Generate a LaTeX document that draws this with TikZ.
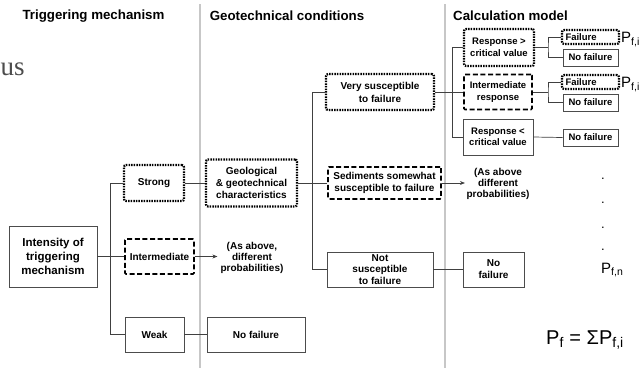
\documentclass[tikz,border=0pt]{standalone}
\usepackage{fontspec}
\setmainfont{Liberation Sans}
\newfontfamily\serifface{Liberation Serif}
\usetikzlibrary{arrows.meta}

\begin{document}
\begin{tikzpicture}[x=1pt,y=-1pt,
  every node/.style={font=\bfseries\fontsize{10}{12}\selectfont, align=center, inner sep=0pt},
  sz/.style 2 args={minimum width=#1pt, minimum height=#2pt},
  plainbox/.style={draw=black!70, line width=0.7pt, fill=white},
  dashbox/.style={draw=black, line width=1.7pt, dash pattern=on 5pt off 2.6pt, rounded corners=1pt, fill=white},
  dotbox/.style={draw=black, line width=2.2pt, dash pattern=on 1.5pt off 1.1pt, rounded corners=2pt, fill=white},
  link/.style={draw=black!75, line width=0.7pt},
  arrowlink/.style={link, -{Stealth[length=5pt,width=4pt]}},
  sep/.style={draw=black!22, line width=1.3pt},
  head/.style={font=\bfseries\fontsize{13.3}{16}\selectfont},
  calc/.style={font=\bfseries\fontsize{9.5}{11.5}\selectfont},
  prob/.style={font=\fontsize{15}{18}\selectfont},
  dotmark/.style={font=\fontsize{13}{13}\selectfont}]

\useasboundingbox (0,0) rectangle (642,368);

% column separators
\coordinate (s1top) at (200,4);
\coordinate (s1bot) at (200,368);
\coordinate (s2top) at (445,4);
\coordinate (s2bot) at (445,368);
\draw[sep] (s1top) -- (s1bot);
\draw[sep] (s2top) -- (s2bot);

% stray serif fragment at the top left
\node[font=\serifface\fontsize{27}{30}\selectfont, text=black!70, anchor=base west] (frag) at (0.5,75) {us};

% column headings
\node[head] (h1) at (93.5,16) {Triggering mechanism};
\node[head] (h2) at (287,16) {Geotechnical conditions};
\node[head, anchor=west] (h3) at (453,16) {Calculation model};

% triggering mechanism
\node[plainbox, sz={88}{61}, font=\bfseries\fontsize{11.5}{14}\selectfont] (intensity) at (53,256.5) {Intensity of\\triggering\\mechanism};
\node[dotbox, sz={60}{36}] (strong) at (154,183) {Strong};
\node[dashbox, sz={69}{35}] (intermed) at (159.5,256.5) {Intermediate};
\node[plainbox, sz={59}{35}] (weak) at (154.5,334.5) {Weak};

% geotechnical conditions
\node[font=\bfseries\fontsize{10}{11}\selectfont] (asabove1) at (252,258) {(As above,\\different\\probabilities)};
\node[dotbox, sz={91}{47}, font=\bfseries\fontsize{10}{11.7}\selectfont] (geo) at (251.5,183) {Geological\\\& geotechnical\\characteristics};
\node[plainbox, sz={98}{35}] (nofailweak) at (256,334.5) {No failure};
\node[dotbox, sz={108}{36}, font=\bfseries\fontsize{10}{13}\selectfont] (verysus) at (380,92) {Very susceptible\\to failure};
\node[dashbox, sz={113}{32}] (sediments) at (384.5,183) {Sediments somewhat\\susceptible to failure};
\node[plainbox, sz={106}{35}, font=\bfseries\fontsize{10}{11.5}\selectfont] (notsus) at (380,269.5) {Not\\susceptible\\to failure};

% calculation model
\node[font=\bfseries\fontsize{10}{11}\selectfont] (asabove2) at (498,184) {(As above\\different\\probabilities)};
\node[plainbox, sz={61}{35}] (nofailnot) at (493.5,269.5) {No\\failure};
\node[dotbox, calc, sz={70}{37}] (respgt) at (499,47.5) {Response >\\critical value};
\node[dashbox, calc, sz={68}{35}] (respint) at (498,92) {Intermediate\\response};
\node[plainbox, calc, sz={70}{36}] (resplt) at (498,137) {Response <\\critical value};

\node[dotbox, calc, sz={57}{14}, text width=50pt, align=left] (fail1) at (590.5,37) {Failure};
\node[plainbox, calc, sz={55}{17}] (nof1) at (590.5,57.5) {No failure};
\node[dotbox, calc, sz={57}{14}, text width=50pt, align=left] (fail2) at (590.5,82) {Failure};
\node[plainbox, calc, sz={55}{17}] (nof2) at (590.5,102.5) {No failure};
\node[plainbox, calc, sz={55}{17}] (nof3) at (590.5,137.5) {No failure};

% probabilities
\node[prob, anchor=base west] (pfi1) at (621,42.5) {P\textsubscript{f,i}};
\node[prob, anchor=base west] (pfi2) at (621,87.5) {P\textsubscript{f,i}};
\node[dotmark] (d1) at (603,179) {.};
\node[dotmark] (d2) at (603,203) {.};
\node[dotmark] (d3) at (603,228) {.};
\node[dotmark] (d4) at (603,250) {.};
\node[prob, anchor=base west] (pfn) at (601,273) {P\textsubscript{f,n}};
\node[font=\fontsize{20}{24}\selectfont, anchor=base] (pfsum) at (585,344) {P\textsubscript{f} = ΣP\textsubscript{f,i}};

% connectors: triggering mechanism
\draw[link] (intensity.east) -- (intermed.west);
\draw[link] (strong.west) -- ++(-13,0) |- (weak.west);
\draw[arrowlink, shorten >=3pt] (intermed.east) -- (asabove1.west |- intermed.east);
\draw[link] (strong.east) -- (geo.west);
\draw[link] (weak.east) -- (nofailweak.west);

% connectors: geotechnical conditions
\draw[link] (geo.east) -- (sediments.west);
\draw[link] (verysus.west) -- ++(-13,0) |- (notsus.west);
\draw[arrowlink, shorten >=1.5pt] (sediments.east) -- (asabove2.west |- sediments.east);
\draw[link] (notsus.east) -- (nofailnot.west);

% connectors: calculation model
\draw[link] (verysus.east) -- (respint.west);
\draw[link] (respgt.west) -- ++(-11,0) |- (resplt.west);
\coordinate (j1) at (548,47.5);
\coordinate (j2) at (548,92);
\draw[link] (respgt.east) -- (j1);
\draw[link] (fail1.west) -| (j1) |- (nof1.west);
\draw[link] (respint.east) -- (j2);
\draw[link] (fail2.west) -| (j2) |- (nof2.west);
\draw[link] (resplt.east) -- (nof3.west);
\end{tikzpicture}
\end{document}
